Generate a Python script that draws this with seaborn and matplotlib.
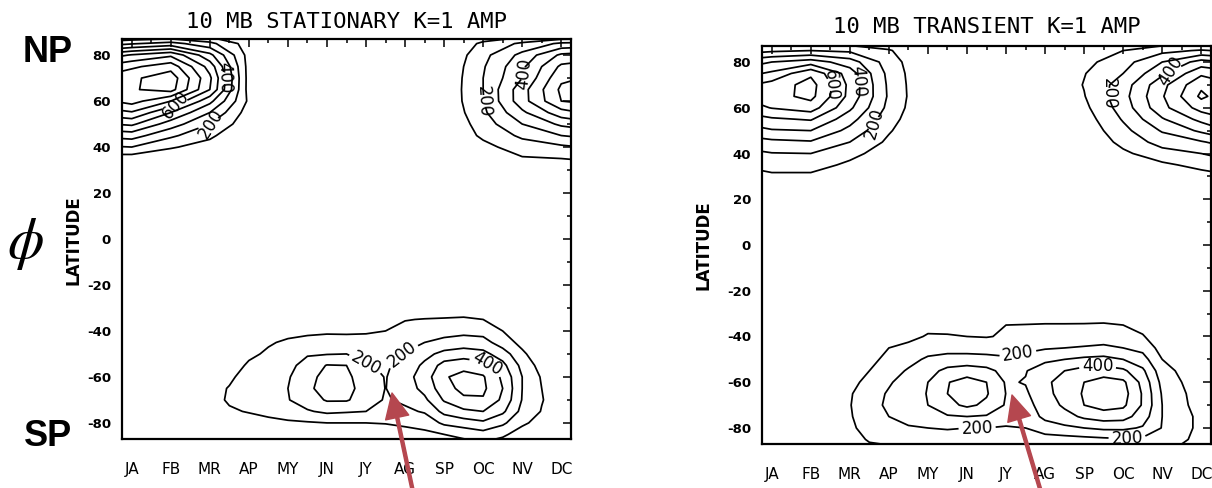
import numpy as np
import matplotlib
matplotlib.use("Agg")
import matplotlib.pyplot as plt
import seaborn as sns
from matplotlib.patches import FancyArrowPatch

# ---------------- data ----------------
month_labels = ["JA", "FB", "MR", "AP", "MY", "JN", "JY", "AG", "SP", "OC", "NV", "DC"]
month_ticks = list(range(12))
lat_ticks = [-80, -60, -40, -20, 0, 20, 40, 60, 80]
plain_levels = [100, 300, 500, 700, 800, 900]
label_levels = [200, 400, 600]

# northern block: latitude rows 30..90, one list per month column
lat_nh = [30, 35, 40, 45, 50, 55, 60, 65, 70, 75, 80, 85, 90]
mon_nh = [-0.5, 0, 1, 2, 3, 4, 5, 6, 7, 8, 9, 10, 11, 11.5]
# southern block: latitude rows -90..-30, half-month columns 2..11
lat_sh = [-90, -85, -80, -75, -70, -65, -60, -55, -50, -45, -40, -35, -30]
mon_sh = [2.0, 2.5, 3.0, 3.5, 4.0, 4.5, 5.0, 5.5, 6.0, 6.5, 7.0, 7.5, 8.0, 8.5,
          9.0, 9.5, 10.0, 10.5, 11.0]

stat_nh = [
    [0, 50, 190, 330, 500, 660, 800, 860, 840, 740, 560, 260, 0],
    [0, 45, 200, 345, 520, 690, 840, 890, 880, 780, 610, 290, 0],
    [0, 30, 110, 220, 350, 500, 700, 940, 960, 860, 680, 340, 0],
    [0, 0, 60, 120, 200, 300, 430, 600, 620, 560, 430, 230, 0],
    [0, 0, 0, 0, 30, 50, 80, 60, 60, 60, 60, 50, 0],
    [0, 0, 0, 0, 0, 0, 0, 0, 0, 0, 0, 0, 0],
    [0, 0, 0, 0, 0, 0, 0, 0, 0, 0, 0, 0, 0],
    [0, 0, 0, 0, 0, 0, 0, 0, 0, 0, 0, 0, 0],
    [0, 0, 0, 0, 0, 0, 0, 0, 0, 0, 0, 0, 0],
    [0, 0, 0, 0, 0, 10, 20, 20, 15, 10, 0, 0, 0],
    [0, 0, 70, 120, 150, 180, 195, 200, 200, 190, 170, 120, 0],
    [20, 90, 150, 220, 300, 380, 460, 460, 400, 380, 330, 220, 0],
    [30, 100, 180, 300, 420, 560, 700, 720, 680, 620, 520, 320, 0],
    [40, 110, 200, 320, 450, 600, 720, 730, 700, 640, 540, 330, 0],
]
stat_sh = [
    [0, 10, 30, 50, 70, 70, 50, 30, 10, 0, 0, 0, 0],
    [0, 20, 50, 90, 110, 105, 85, 50, 20, 0, 0, 0, 0],
    [0, 25, 65, 105, 140, 145, 135, 115, 80, 40, 10, 0, 0],
    [0, 30, 75, 125, 160, 165, 155, 140, 115, 90, 30, 0, 0],
    [0, 35, 85, 150, 195, 200, 190, 170, 150, 115, 70, 20, 0],
    [0, 40, 90, 190, 250, 280, 270, 240, 190, 130, 80, 20, 0],
    [0, 50, 100, 220, 310, 340, 330, 305, 195, 140, 85, 25, 0],
    [0, 45, 100, 210, 310, 330, 320, 300, 200, 135, 85, 25, 0],
    [0, 45, 100, 200, 250, 260, 250, 210, 165, 130, 90, 30, 0],
    [0, 45, 105, 170, 190, 198, 195, 185, 160, 135, 100, 45, 0],
    [0, 70, 115, 180, 220, 250, 260, 240, 205, 175, 135, 95, 10],
    [0, 75, 140, 210, 280, 330, 350, 320, 270, 200, 150, 105, 20],
    [30, 100, 220, 330, 410, 460, 490, 440, 330, 230, 160, 110, 30],
    [50, 130, 250, 380, 480, 530, 530, 470, 350, 250, 170, 115, 40],
    [70, 160, 280, 400, 490, 520, 510, 440, 330, 240, 160, 100, 20],
    [40, 120, 220, 320, 380, 400, 380, 330, 250, 150, 100, 50, 0],
    [0, 50, 120, 170, 195, 200, 200, 170, 120, 70, 30, 0, 0],
    [0, 20, 60, 95, 105, 100, 90, 60, 30, 0, 0, 0, 0],
    [0, 0, 20, 40, 50, 50, 40, 20, 0, 0, 0, 0, 0],
]
tran_nh = [
    [60, 120, 175, 255, 360, 455, 565, 630, 600, 480, 360, 160, 0],
    [80, 140, 195, 275, 390, 485, 605, 660, 640, 520, 400, 180, 0],
    [80, 140, 200, 290, 400, 510, 650, 730, 740, 680, 450, 200, 0],
    [30, 80, 130, 200, 270, 340, 420, 470, 475, 450, 350, 180, 0],
    [0, 20, 50, 80, 110, 140, 170, 185, 180, 170, 150, 110, 0],
    [0, 0, 0, 0, 0, 0, 0, 0, 0, 0, 0, 0, 0],
    [0, 0, 0, 0, 0, 0, 0, 0, 0, 0, 0, 0, 0],
    [0, 0, 0, 0, 0, 0, 0, 0, 0, 0, 0, 0, 0],
    [0, 0, 0, 0, 0, 0, 0, 0, 0, 0, 0, 0, 0],
    [0, 0, 0, 10, 30, 50, 75, 95, 105, 95, 70, 30, 0],
    [0, 20, 80, 130, 170, 210, 245, 265, 250, 200, 160, 100, 0],
    [20, 80, 160, 240, 310, 390, 470, 490, 470, 380, 300, 170, 0],
    [60, 130, 200, 290, 420, 530, 640, 720, 680, 580, 440, 210, 0],
    [80, 150, 230, 330, 480, 590, 640, 660, 630, 550, 410, 190, 0],
]
tran_sh = [
    [0, 60, 80, 90, 95, 90, 70, 40, 10, 0, 0, 0, 0],
    [70, 110, 140, 160, 170, 160, 130, 100, 70, 40, 10, 0, 0],
    [80, 120, 170, 200, 215, 210, 190, 160, 130, 100, 40, 10, 0],
    [85, 130, 190, 235, 260, 255, 240, 210, 170, 130, 70, 20, 0],
    [85, 135, 200, 260, 300, 305, 300, 260, 215, 160, 110, 70, 0],
    [85, 140, 210, 290, 370, 400, 395, 330, 230, 170, 110, 60, 0],
    [85, 150, 200, 300, 420, 455, 440, 350, 240, 160, 100, 40, 0],
    [85, 145, 200, 290, 380, 410, 400, 330, 230, 160, 95, 40, 0],
    [85, 140, 190, 250, 290, 298, 290, 265, 215, 160, 110, 100, 0],
    [85, 140, 200, 250, 270, 285, 305, 295, 235, 175, 120, 105, 10],
    [90, 150, 260, 320, 340, 370, 380, 350, 280, 190, 130, 110, 20],
    [90, 160, 280, 360, 420, 440, 440, 400, 300, 200, 140, 110, 20],
    [95, 170, 300, 420, 500, 510, 500, 440, 320, 210, 140, 110, 30],
    [95, 180, 320, 450, 540, 560, 540, 450, 330, 220, 150, 115, 30],
    [95, 190, 320, 440, 520, 540, 520, 420, 300, 200, 140, 100, 20],
    [90, 180, 290, 350, 390, 390, 370, 320, 240, 170, 110, 60, 0],
    [85, 150, 195, 200, 200, 190, 170, 140, 100, 60, 20, 0, 0],
    [70, 120, 140, 140, 130, 115, 100, 80, 40, 0, 0, 0, 0],
    [30, 60, 70, 70, 40, 50, 30, 10, 0, 0, 0, 0, 0],
]

# label anchor points (month, latitude) for contour labels
stat_lab_nh = [(1.2, 58), (2.35, 70), (2.1, 50), (9.1, 60), (10.1, 72)]
stat_lab_sh = [(6.0, -54), (7.05, -52.6), (8.9, -60)]
tran_lab_nh = [(1.5, 70), (2.3, 71.7), (2.57, 53.4), (8.72, 66), (10.2, 76)]
tran_lab_sh = [(6.3, -47.3), (5.26, -79.5), (8.35, -54.7), (9.1, -84)]

titles = ["10 MB STATIONARY K=1 AMP", "10 MB TRANSIENT K=1 AMP"]

# ---------------- style ----------------
sns.set_style("white")
plt.rcParams["font.family"] = ["DejaVu Sans"]
plt.rcParams["mathtext.fontset"] = "stix"
for key in ("text.color", "axes.labelcolor", "xtick.color", "ytick.color"):
    plt.rcParams[key] = "black"

W, H = 1212, 488
fig = plt.figure(figsize=(W / 100, H / 100), dpi=100)
fig.patch.set_facecolor("white")


def fx(px):
    return px / W


def fy(py):
    return 1 - py / H


def draw_panel(rect, nh, sh, lab_nh, lab_sh, title, tpad):
    ax = fig.add_axes(rect)
    blocks = ((mon_nh, lat_nh, nh, lab_nh), (mon_sh, lat_sh, sh, lab_sh))
    for mx, ly, vals, pos in blocks:
        Z = np.array(vals, dtype=float).T
        ax.contour(mx, ly, Z, levels=plain_levels, colors="black",
                   linewidths=1.25)
        zmax = Z.max()
        lv = [v for v in label_levels if v < zmax]
        cs = ax.contour(mx, ly, Z, levels=lv, colors="black",
                        linewidths=1.25)
        ax.clabel(cs, manual=pos, inline=True, fmt="%d", fontsize=12,
                  inline_spacing=2)
    ax.set_xlim(-0.25, 11.25)
    ax.set_ylim(-87, 87)
    ax.set_xticks(month_ticks)
    ax.set_xticklabels(month_labels, fontsize=11, family="DejaVu Sans")
    ax.set_xticks(np.arange(-0.0, 11.5, 0.5), minor=True)
    ax.set_yticks(lat_ticks)
    ax.set_yticklabels([str(v) for v in lat_ticks], fontsize=9.5,
                       fontweight="bold")
    ax.set_yticks(np.arange(-80, 90, 10), minor=True)
    ax.tick_params(which="both", direction="in", top=True, right=True,
                   width=1.1, color="black")
    ax.tick_params(which="major", length=6)
    ax.tick_params(which="minor", length=3)
    ax.tick_params(axis="x", which="major", pad=16.5)
    ax.tick_params(axis="y", which="major", pad=8)
    for s in ax.spines.values():
        s.set_color("black")
        s.set_linewidth(1.6)
    ax.set_title(title, fontsize=16, family="DejaVu Sans Mono", pad=tpad,
                 color="black")
    return ax


ax1 = draw_panel([fx(122), fy(439), fx(449), 400 / H], stat_nh, stat_sh,
                 stat_lab_nh, stat_lab_sh, titles[0], 8)
ax2 = draw_panel([fx(762), fy(444), fx(449), 398 / H], tran_nh, tran_sh,
                 tran_lab_nh, tran_lab_sh, titles[1], 9.5)

# axis labels
fig.text(fx(73), fy(240), "LATITUDE", rotation=90, ha="center", va="center",
         fontsize=12, fontweight="bold")
fig.text(fx(703), fy(245), "LATITUDE", rotation=90, ha="center", va="center",
         fontsize=12, fontweight="bold")

# annotations
fig.text(fx(48), fy(52), "NP", ha="center", va="center", fontsize=26,
         fontweight="bold", family="Liberation Sans")
fig.text(fx(48), fy(437), "SP", ha="center", va="center", fontsize=26,
         fontweight="bold", family="Liberation Sans")
fig.text(fx(25), fy(243), r"$\phi$", ha="center", va="center", fontsize=42)

arrow_color = "#B5474F"
for tail, head in (((413, 492), (392, 393)), ((1041, 492), (1012, 395))):
    arr = FancyArrowPatch((fx(tail[0]), fy(tail[1])), (fx(head[0]), fy(head[1])),
                          transform=fig.transFigure,
                          arrowstyle="simple,head_length=1.8,head_width=1.7,tail_width=0.22",
                          mutation_scale=10, color=arrow_color, zorder=10,
                          shrinkA=0, shrinkB=0)
    fig.add_artist(arr)

fig.savefig("out.png", dpi=100, facecolor="white")
